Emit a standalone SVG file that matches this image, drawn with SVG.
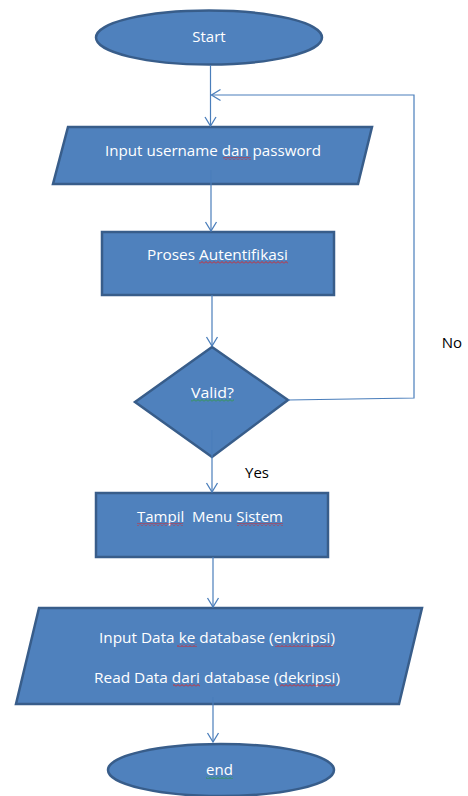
<svg xmlns="http://www.w3.org/2000/svg" width="468" height="796" viewBox="0 0 468 796">
<defs>
<style>
.shape{fill:#4F81BD;stroke:#385D8A;stroke-width:2.5;stroke-linejoin:miter}
.lbl{font-family:"Open Sans","Liberation Sans",sans-serif;font-size:15px;fill:#FFFFFF;text-anchor:middle}
.ext{font-family:"Open Sans","Liberation Sans",sans-serif;font-size:15px;fill:#000000;text-anchor:middle}
.conn{fill:none;stroke:#4A7EBB;stroke-width:1.2}
.red{fill:url(#sqRed)}
.green{fill:url(#sqGreen)}
</style>
<marker id="arr" markerUnits="userSpaceOnUse" markerWidth="14" markerHeight="14" viewBox="-12 -7 14 14" refX="0" refY="0" orient="auto">
<polyline points="-9,-5.5 0,0 -9,5.5" fill="none" stroke="#4A7EBB" stroke-width="1.3"/>
</marker>
<pattern id="sqRed" patternUnits="userSpaceOnUse" width="4" height="3">
<polyline points="0,2.5 2,0.5 4,2.5" fill="none" stroke="#E02020" stroke-width="0.9"/>
</pattern>
<pattern id="sqGreen" patternUnits="userSpaceOnUse" width="4" height="3">
<polyline points="0,2.5 2,0.5 4,2.5" fill="none" stroke="#2E9E3A" stroke-width="0.9"/>
</pattern>
</defs>
<rect width="468" height="796" fill="#FFFFFF"/>

<g id="start">
<ellipse class="shape" cx="209" cy="37.5" rx="113" ry="27"/>
<text class="lbl" x="209" y="42">Start</text>
</g>

<g id="input-login">
<polygon class="shape" points="68,127 372,127 358,184 53,184"/>
<text class="lbl" x="213" y="156" textLength="216" lengthAdjust="spacingAndGlyphs">Input username dan password</text>
<rect class="red" x="223" y="157" width="28" height="3"/>
</g>

<g id="autentifikasi">
<rect class="shape" x="102" y="232" width="232" height="63"/>
<text class="lbl" x="217.5" y="260" textLength="141" lengthAdjust="spacingAndGlyphs">Proses Autentifikasi</text>
<rect class="red" x="199" y="261" width="89" height="3"/>
</g>

<g id="valid">
<polygon class="shape" points="212,347 288,400 212,457 135,402"/>
<text class="lbl" x="212.5" y="398" textLength="43" lengthAdjust="spacingAndGlyphs">Valid?</text>
<rect class="green" x="191" y="399" width="43" height="3"/>
</g>

<g id="menu">
<rect class="shape" x="96" y="493" width="232" height="64"/>
<text class="lbl" x="210" y="522" textLength="146" lengthAdjust="spacingAndGlyphs" xml:space="preserve">Tampil  Menu Sistem</text>
<rect class="red" x="137" y="523" width="46" height="3"/>
<rect class="red" x="237" y="523" width="46" height="3"/>
</g>

<g id="data">
<polygon class="shape" points="39,608 422,608 399,704 16,704"/>
<text class="lbl" x="217" y="643" textLength="236" lengthAdjust="spacingAndGlyphs">Input Data ke database (enkripsi)</text>
<text class="lbl" x="217" y="683" textLength="246" lengthAdjust="spacingAndGlyphs">Read Data dari database (dekripsi)</text>
<rect class="red" x="177" y="644" width="20" height="3"/>
<rect class="red" x="275" y="644" width="58" height="3"/>
<rect class="red" x="173" y="684" width="27" height="3"/>
<rect class="red" x="280" y="684" width="55" height="3"/>
</g>

<g id="end">
<ellipse class="shape" cx="221" cy="770" rx="113" ry="26"/>
<text class="lbl" x="219.5" y="775">end</text>
<rect class="green" x="206" y="776" width="27" height="3"/>
</g>

<g id="connectors">
<line class="conn" x1="210.5" y1="65" x2="210.5" y2="126" marker-end="url(#arr)"/>
<line class="conn" x1="211" y1="170" x2="211" y2="231" marker-end="url(#arr)"/>
<line class="conn" x1="212" y1="295" x2="212" y2="346" marker-end="url(#arr)"/>
<line class="conn" x1="212" y1="430" x2="212" y2="492" marker-end="url(#arr)"/>
<line class="conn" x1="213" y1="557" x2="213" y2="607" marker-end="url(#arr)"/>
<line class="conn" x1="213" y1="697" x2="213" y2="742" marker-end="url(#arr)"/>
<polyline class="conn" points="288,400 414,398 414,95 211.5,95" marker-end="url(#arr)"/>
<text class="ext" x="452" y="348">No</text>
<text class="ext" x="257" y="478">Yes</text>
</g>
</svg>
